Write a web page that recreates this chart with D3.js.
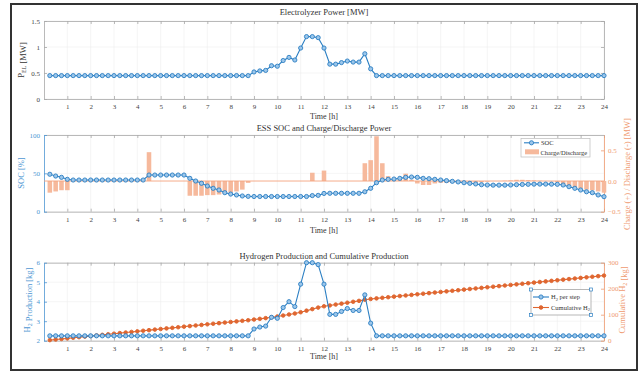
<!DOCTYPE html>
<html><head><meta charset="utf-8">
<script src="https://cdn.jsdelivr.net/npm/d3@7/dist/d3.min.js"></script>
<style>
body{margin:0;background:#fff}
svg{display:block}
text{font-family:"Liberation Serif","Times New Roman",serif}
</style>
</head><body>
<svg id="chart" width="644" height="371"></svg>
<script>
// ---------- DATA ----------
const time = [0.25,0.5,0.75,1,1.25,1.5,1.75,2,2.25,2.5,2.75,3,3.25,3.5,3.75,4,4.25,4.5,4.75,5,5.25,5.5,5.75,6,
  6.25,6.5,6.75,7,7.25,7.5,7.75,8,8.25,8.5,8.75,9,9.25,9.5,9.75,10,10.25,10.5,10.75,11,11.25,11.5,11.75,12,
  12.25,12.5,12.75,13,13.25,13.5,13.75,14,14.25,14.5,14.75,15,15.25,15.5,15.75,16,16.25,16.5,16.75,17,17.25,17.5,17.75,18,
  18.25,18.5,18.75,19,19.25,19.5,19.75,20,20.25,20.5,20.75,21,21.25,21.5,21.75,22,22.25,22.5,22.75,23,23.25,23.5,23.75,24];
const xTicks = [1,2,3,4,5,6,7,8,9,10,11,12,13,14,15,16,17,18,19,20,21,22,23,24];

const electrolyzerPower = [
  0.45,0.45,0.45,0.45,0.45,0.45,0.45,0.45,0.45,0.45,0.45,0.45,0.45,0.45,0.45,0.45,0.45,0.45,0.45,0.45,0.45,0.45,0.45,0.45,
  0.45,0.45,0.45,0.45,0.45,0.45,0.45,0.45,0.45,0.45,0.45,
  0.52,0.54,0.55,0.64,0.63,0.74,0.80,0.75,0.98,1.20,1.20,1.18,0.98,0.67,0.67,0.70,0.73,0.71,0.71,0.87,0.58,
  0.45,0.45,0.45,0.45,0.45,0.45,0.45,0.45,0.45,0.45,0.45,0.45,0.45,0.45,0.45,0.45,0.45,0.45,0.45,0.45,
  0.45,0.45,0.45,0.45,0.45,0.45,0.45,0.45,0.45,0.45,0.45,0.45,0.45,0.45,0.45,0.45,0.45,0.45,0.45,0.45];

const soc = [
  48.8,46.5,44.8,42.2,41.3,41.3,41.3,41.3,41.3,41.3,41.3,41.3,41.3,41.3,41.3,41.3,41.3,
  47.8,47.8,47.8,47.8,47.8,47.8,47.8,
  43.5,40.0,37.0,33.5,30.5,28.3,24.8,23.0,21.8,20.5,20.0,
  19.8,19.8,19.8,19.8,19.8,19.8,19.8,19.8,19.8,19.8,
  21.0,21.3,23.8,24.0,24.0,24.0,24.0,24.0,24.0,26.0,30.5,
  37.8,41.3,42.2,42.6,43.5,44.8,45.2,44.8,43.5,43.0,42.2,41.3,40.5,39.6,38.8,37.8,37.0,36.2,35.2,34.8,
  34.6,34.6,34.6,34.8,35.2,35.5,35.7,35.9,36.0,36.0,35.9,35.7,34.8,32.6,30.5,28.3,26.0,24.8,21.8,19.6];

const chargePower = [
  -0.19,-0.17,-0.15,-0.15,0,0,0,0,0,0,0,0,0,0,0,0,0,
  0.47,0,0,0,0,0,0,
  -0.24,-0.24,-0.24,-0.23,-0.23,-0.22,-0.21,-0.19,-0.17,-0.14,-0.03,
  0,0,0,0,0,0,0,0,0,0,
  0.135,0,0.17,0,0,0,0,0,0,0.29,0.34,
  0.73,0.29,0.08,0.03,0.03,0.12,0.02,-0.04,-0.065,-0.065,-0.04,-0.03,-0.03,-0.03,-0.03,-0.03,-0.03,-0.025,-0.02,-0.01,
  0,0,0.005,0.01,0.02,0.02,0.015,0.01,0.005,0,-0.005,-0.02,-0.05,-0.08,-0.10,-0.12,-0.14,-0.15,-0.17,-0.19];

const h2PerStep = [
  2.25,2.25,2.25,2.25,2.25,2.25,2.25,2.25,2.25,2.25,2.25,2.25,2.25,2.25,2.25,2.25,2.25,2.25,2.25,2.25,2.25,2.25,2.25,2.25,
  2.25,2.25,2.25,2.25,2.25,2.25,2.25,2.25,2.25,2.25,2.25,
  2.60,2.70,2.75,3.20,3.15,3.70,4.00,3.75,4.90,6.00,6.00,5.90,4.90,3.35,3.35,3.50,3.65,3.55,3.55,4.35,2.90,
  2.25,2.25,2.25,2.25,2.25,2.25,2.25,2.25,2.25,2.25,2.25,2.25,2.25,2.25,2.25,2.25,2.25,2.25,2.25,2.25,
  2.25,2.25,2.25,2.25,2.25,2.25,2.25,2.25,2.25,2.25,2.25,2.25,2.25,2.25,2.25,2.25,2.25,2.25,2.25,2.25];

const h2Cumulative = [
  2.25,4.5,6.75,9,11.25,13.5,15.75,18,20.25,22.5,24.75,27,29.25,31.5,33.75,36,38.25,40.5,42.75,45,47.25,49.5,51.75,54,
  56.25,58.5,60.75,63,65.25,67.5,69.75,72,74.25,76.5,78.75,
  81.35,84.05,86.8,90.0,93.15,96.85,100.85,104.6,109.5,115.5,121.5,127.4,132.3,135.65,139.0,142.5,146.15,149.7,153.25,157.6,160.5,
  162.75,165,167.25,169.5,171.75,174,176.25,178.5,180.75,183,185.25,187.5,189.75,192,194.25,196.5,198.75,201,203.25,205.5,
  207.75,210,212.25,214.5,216.75,219,221.25,223.5,225.75,228,230.25,232.5,234.75,237,239.25,241.5,243.75,246,248.25,250.5];

const topTicks = [0,0.5,1,1.5];
const socTicks = [0,50,100];
const chargeTicks = [-0.5,0,0.5];
const h2Ticks = [2,3,4,5,6];
const cumTicks = [0,100,200,300];

// ---------- STYLE ----------
const BLUE = "#2b7fc3", BLUE_FILL = "#9cc6ea", BLUE_TXT = "#4f97d3";
const ORANGE = "#df6630", ORANGE_TXT = "#ef9a70", BAR = "#f6b99c";
const AXIS = "#a8a8a8", TXT = "#444", GRID = "#eeeeee";

const svg = d3.select("#chart");
svg.append("rect").attr("x",11).attr("y",4).attr("width",626).attr("height",366)
  .attr("fill","#fff").attr("stroke","#333").attr("stroke-width",2);

const x = d3.scaleLinear().domain([0,24]).range([44,604]);

function panel(y0, y1, yScaleL, lTicks, lFmt, lColor, yScaleR, rTicks, rColor) {
  const g = svg.append("g");
  // grid
  g.append("g").selectAll("line").data(xTicks).join("line")
    .attr("x1",d=>x(d)).attr("x2",d=>x(d)).attr("y1",y0).attr("y2",y1)
    .attr("stroke",GRID).attr("stroke-width",0.6);
  g.append("g").selectAll("line").data(lTicks).join("line")
    .attr("x1",x(0)).attr("x2",x(24)).attr("y1",d=>yScaleL(d)).attr("y2",d=>yScaleL(d))
    .attr("stroke",GRID).attr("stroke-width",0.6);
  // bottom
  const gb = g.append("g").attr("transform",`translate(0,${y1})`)
    .call(d3.axisBottom(x).tickValues(xTicks).tickSize(-3).tickSizeOuter(0).tickPadding(5));
  // top
  const gt = g.append("g").attr("transform",`translate(0,${y0})`)
    .call(d3.axisTop(x).tickValues(xTicks).tickSize(-3).tickSizeOuter(0).tickFormat(""));
  [gb,gt].forEach(a=>{
    a.selectAll("path,line").attr("stroke",AXIS).attr("stroke-width",0.8);
    a.selectAll("text").attr("fill",TXT).attr("font-size",7).attr("font-family","Liberation Serif");
  });
  // left
  const gl = g.append("g").attr("transform",`translate(${x(0)},0)`)
    .call(d3.axisLeft(yScaleL).tickValues(lTicks).tickSize(-3).tickSizeOuter(0).tickPadding(4).tickFormat(lFmt));
  gl.selectAll("path,line").attr("stroke",lColor===TXT?AXIS:lColor).attr("stroke-width",0.8);
  gl.selectAll("text").attr("fill",lColor).attr("font-size",7).attr("font-family","Liberation Serif");
  // right
  if (yScaleR) {
    const gr = g.append("g").attr("transform",`translate(${x(24)},0)`)
      .call(d3.axisRight(yScaleR).tickValues(rTicks).tickSize(-3).tickSizeOuter(0).tickPadding(4));
    gr.selectAll("path,line").attr("stroke",rColor).attr("stroke-width",0.8);
    gr.selectAll("text").attr("fill",rColor).attr("font-size",7).attr("font-family","Liberation Serif")
      .attr("text-anchor","start");
  } else {
    const gr = g.append("g").attr("transform",`translate(${x(24)},0)`)
      .call(d3.axisRight(yScaleL).tickValues(lTicks).tickSize(-3).tickSizeOuter(0).tickFormat(""));
    gr.selectAll("path,line").attr("stroke",AXIS).attr("stroke-width",0.8);
  }
  return g;
}

function title(txt, y) {
  svg.append("text").attr("x",324).attr("y",y).attr("text-anchor","middle")
    .attr("font-size",8.5).attr("fill","#333").text(txt);
}
function xlabel(y) {
  svg.append("text").attr("x",324).attr("y",y).attr("text-anchor","middle")
    .attr("font-size",8).attr("fill","#333").text("Time [h]");
}
function ylabel(parts, xPos, yc, color) {
  const t = svg.append("text").attr("transform",`translate(${xPos},${yc}) rotate(-90)`)
    .attr("text-anchor","middle").attr("font-size",8.5).attr("fill",color);
  parts.forEach(p=>{
    if (p.sub) {
      t.append("tspan").attr("font-size",6).attr("dy",2).text(p.t);
      t.append("tspan").attr("dy",-2).text("");
    } else t.append("tspan").text(p.t);
  });
}
function markerLine(g, xs, ys, yScale, col, fill, r, filled) {
  const line = d3.line().x(d=>x(d[0])).y(d=>yScale(d[1]));
  const pts = xs.map((t,i)=>[t, ys[i]]);
  g.append("path").datum(pts).attr("d",line).attr("fill","none").attr("stroke",col).attr("stroke-width",1.1);
  g.append("g").selectAll("circle").data(pts).join("circle")
    .attr("cx",d=>x(d[0])).attr("cy",d=>yScale(d[1])).attr("r",r)
    .attr("fill",filled?col:fill).attr("stroke",col).attr("stroke-width",0.9);
}

// ---------- PANEL 1 ----------
const y1 = d3.scaleLinear().domain([0,1.5]).range([99,21]);
const p1 = panel(21,99,y1,topTicks,d3.format("~g"),TXT,null,null,null);
markerLine(p1, time, electrolyzerPower, y1, BLUE, BLUE_FILL, 2.1, false);
title("Electrolyzer Power [MW]", 15);
xlabel(119);
ylabel([{t:"P"},{t:"EL",sub:true},{t:" [MW]"}], 24, 60, "#333");

// ---------- PANEL 2 ----------
const y2 = d3.scaleLinear().domain([0,100]).range([211.7,135]);
const y2r = d3.scaleLinear().domain([-0.5,0.75]).range([211.7,135]);
const p2 = panel(135,211.7,y2,socTicks,d3.format("d"),BLUE_TXT,y2r,chargeTicks,ORANGE_TXT);
const bw = (x(0.25)-x(0))*0.78;
p2.append("g").selectAll("rect").data(time.map((t,i)=>[t,chargePower[i]])).join("rect")
  .attr("x",d=>x(d[0])-bw/2).attr("width",bw)
  .attr("y",d=>y2r(Math.max(0,d[1]))).attr("height",d=>Math.abs(y2r(d[1])-y2r(0)))
  .attr("fill",BAR);
p2.append("line").attr("x1",x(0)).attr("x2",x(24)).attr("y1",y2r(0)).attr("y2",y2r(0))
  .attr("stroke","#f3a27e").attr("stroke-width",0.9);
markerLine(p2, time, soc, y2, BLUE, BLUE_FILL, 2.1, false);
title("ESS SOC and Charge/Discharge Power", 131);
xlabel(233);
ylabel([{t:"SOC [%]"}], 24, 173, BLUE_TXT);
ylabel([{t:"Charge (+) / Discharge (-) [MW]"}], 630, 174, ORANGE_TXT);
// legend 2
const lg2 = svg.append("g");
lg2.append("rect").attr("x",521).attr("y",138.5).attr("width",69).attr("height",18.5)
  .attr("fill","#fff").attr("stroke","#bbb").attr("stroke-width",0.7);
lg2.append("line").attr("x1",524).attr("x2",539).attr("y1",142.8).attr("y2",142.8).attr("stroke",BLUE).attr("stroke-width",1.1);
lg2.append("circle").attr("cx",531.5).attr("cy",142.8).attr("r",2.1).attr("fill",BLUE_FILL).attr("stroke",BLUE).attr("stroke-width",0.9);
lg2.append("text").attr("x",541).attr("y",145.2).attr("font-size",6.5).attr("fill","#333").text("SOC");
lg2.append("rect").attr("x",525).attr("y",149.3).attr("width",14).attr("height",5).attr("fill",BAR);
lg2.append("text").attr("x",540.5).attr("y",154.5).attr("font-size",6.5).attr("fill","#333").text("Charge/Discharge");

// ---------- PANEL 3 ----------
const y3 = d3.scaleLinear().domain([2,6]).range([340.7,262.7]);
const y3r = d3.scaleLinear().domain([0,300]).range([340.7,262.7]);
const p3 = panel(262.7,340.7,y3,h2Ticks,d3.format("d"),BLUE_TXT,y3r,cumTicks,ORANGE_TXT);
markerLine(p3, time, h2Cumulative, y3r, ORANGE, ORANGE, 1.8, true);
markerLine(p3, time, h2PerStep, y3, BLUE, BLUE_FILL, 2.1, false);
title("Hydrogen Production and Cumulative Production", 259);
xlabel(359);
ylabel([{t:"H"},{t:"2",sub:true},{t:" Production [kg]"}], 30, 300, BLUE_TXT);
ylabel([{t:"Cumulative H"},{t:"2",sub:true},{t:" [kg]"}], 625, 300, ORANGE_TXT);
// legend 3
const lg3 = svg.append("g");
lg3.append("rect").attr("x",531).attr("y",289.5).attr("width",60).attr("height",25.5)
  .attr("fill","#fff").attr("stroke","#999").attr("stroke-width",0.7);
[[531,289.5],[591,289.5],[531,315],[591,315]].forEach(c=>{
  lg3.append("rect").attr("x",c[0]-1.5).attr("y",c[1]-1.5).attr("width",3).attr("height",3)
    .attr("fill","#fff").attr("stroke",BLUE).attr("stroke-width",0.7);
});
lg3.append("line").attr("x1",533).attr("x2",549).attr("y1",297).attr("y2",297).attr("stroke",BLUE).attr("stroke-width",1.1);
lg3.append("circle").attr("cx",541).attr("cy",297).attr("r",2.1).attr("fill",BLUE_FILL).attr("stroke",BLUE).attr("stroke-width",0.9);
const t1 = lg3.append("text").attr("x",551).attr("y",299.3).attr("font-size",6.5).attr("fill","#333");
t1.append("tspan").text("H"); t1.append("tspan").attr("font-size",4.5).attr("dy",1.5).text("2");
t1.append("tspan").attr("dy",-1.5).text(" per step");
lg3.append("line").attr("x1",533).attr("x2",549).attr("y1",307.5).attr("y2",307.5).attr("stroke",ORANGE).attr("stroke-width",1.1);
lg3.append("circle").attr("cx",541).attr("cy",307.5).attr("r",1.8).attr("fill",ORANGE).attr("stroke",ORANGE);
const t2 = lg3.append("text").attr("x",551).attr("y",309.8).attr("font-size",6.5).attr("fill","#333");
t2.append("tspan").text("Cumulative H"); t2.append("tspan").attr("font-size",4.5).attr("dy",1.5).text("2");
</script>
</body></html>
